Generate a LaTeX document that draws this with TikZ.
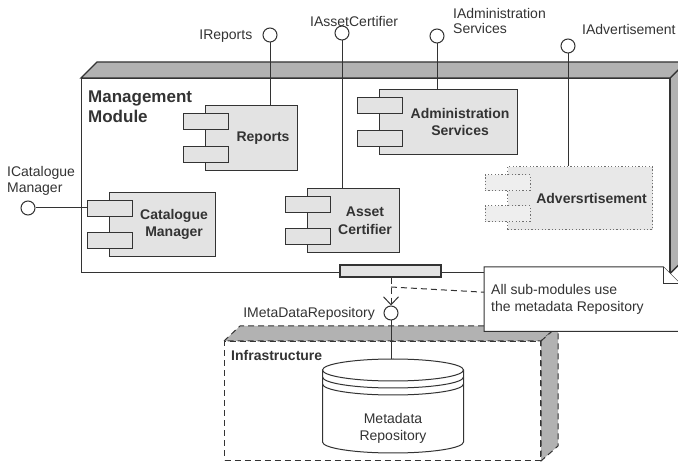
\documentclass[tikz,border=0pt]{standalone}
\usepackage{fontspec}
\setmainfont{Liberation Sans}
\usetikzlibrary{arrows.meta}

\definecolor{ink}{HTML}{333333}
\definecolor{facegray}{HTML}{B2B2B2}
\definecolor{compgray}{HTML}{E3E3E3}
\definecolor{advgray}{HTML}{E8E8E8}
\definecolor{advport}{HTML}{EEEEEE}

\tikzset{
  line/.style={draw=ink, line width=1pt},
  boxline/.style={draw=ink, line width=1.3pt},
  compbody/.style={rectangle, draw=ink, fill=compgray, line width=1.1pt, inner sep=0pt},
  compport/.style={compbody, minimum width=45pt, minimum height=16pt},
  complabel/.style={font=\bfseries\fontsize{14}{17.5}\selectfont, align=center, text=ink, inner sep=0pt},
  advstyle/.style={draw=ink!70, fill=advgray, dash pattern=on 1.2pt off 2.2pt},
  iface/.style={circle, draw=ink, fill=white, line width=1pt, minimum size=14pt, inner sep=0pt},
  lbl/.style={font=\fontsize{14}{16}\selectfont, text=ink, inner sep=0pt},
  titlelbl/.style={font=\bfseries\fontsize{17}{20}\selectfont, text=ink, inner sep=0pt},
  sublbl/.style={font=\bfseries\fontsize{14}{16}\selectfont, text=ink, inner sep=0pt},
  dashline/.style={draw=ink, line width=1pt, dash pattern=on 6pt off 4pt},
}

% component: [style]{name}{left}{top}{width}{height}{label}
\newcommand{\umlcomp}[7][]{%
  \node[compbody,#1,minimum width=#5pt,minimum height=#6pt,anchor=north west] (#2) at (#3,#4) {};
  \node[compport,#1,anchor=north west] (#2-p1) at ([shift={(-22.5,8)}]#2.north west) {};
  \node[compport,#1,anchor=south west] (#2-p2) at ([shift={(-22.5,-8)}]#2.south west) {};
  \node[complabel] (#2-l) at ([xshift=11.5pt]#2.center) {#7};
}

\begin{document}
\begin{tikzpicture}[x=1pt,y=-1pt]
\useasboundingbox (0,0) rectangle (678,462);
\clip (0,0) rectangle (678,462);

% Management module (3D box)
\node[boxline, fill=white, rectangle, inner sep=0pt, minimum width=588pt, minimum height=194pt, anchor=north west] (mgmt) at (81,78) {};
\draw[boxline, fill=facegray] (mgmt.north west) -- ++(16,-16) -- ([shift={(16,-16)}]mgmt.north east) -- (mgmt.north east) -- cycle;
\draw[boxline, fill=facegray] (mgmt.north east) -- ++(16,-16) -- ([shift={(16,-16)}]mgmt.south east) -- (mgmt.south east) -- cycle;
\node[titlelbl, anchor=base west] (mgmt-l1) at (88,102.3) {Management};
\node[titlelbl, anchor=base west] (mgmt-l2) at (88,122.7) {Module};

% Sub-modules
\umlcomp{rep}{205}{105}{92}{65}{Reports}
\umlcomp{cat}{109}{192}{106}{64}{Catalogue\\Manager}
\umlcomp{cert}{307}{188}{92}{64}{Asset\\Certifier}
\umlcomp{adm}{379}{89}{138}{65}{Administration\\Services}
\umlcomp[advstyle]{adv}{507}{166}{145}{63}{Adversrtisement}
\foreach \p in {adv-p1,adv-p2} \node[compport,advstyle,fill=advport] at (\p) {};

% Provided interfaces
\node[iface] (irep) at (270,35) {};
\draw[line] (irep) -- (irep |- rep.north);
\node[lbl, anchor=base east] (irep-l) at (252.5,39.5) {IReports};

\node[iface] (icert) at (342,33) {};
\draw[line] (icert) -- (icert |- cert.north);
\node[lbl, anchor=base west] (icert-l) at (310,26.5) {IAssetCertifier};

\node[iface] (iadm) at (437,36) {};
\draw[line] (iadm) -- (iadm |- adm.north);
\node[lbl, anchor=base west] (iadm-l1) at (453,18.5) {IAdministration};
\node[lbl, anchor=base west] (iadm-l2) at (453,33.5) {Services};

\node[iface] (iadv) at (568,46) {};
\draw[line] (iadv) -- (iadv |- adv.north);
\node[lbl, anchor=base west] (iadv-l) at (582,35) {IAdvertisement};

\node[iface] (icat) at (28,208) {};
\draw[line] (icat) -- (icat -| cat-p1.west);
\node[lbl, anchor=base west] (icat-l1) at (7,177) {ICatalogue};
\node[lbl, anchor=base west] (icat-l2) at (7,192.5) {Manager};

% Port on the module boundary
\node[compbody, minimum width=101pt, minimum height=12pt] (mport) at (390.5,271) {};

% Infrastructure (3D dashed box)
\node[dashline, fill=white, rectangle, inner sep=0pt, minimum width=316pt, minimum height=119pt, anchor=north west] (infra) at (224,341) {};
\draw[dashline, fill=facegray] (infra.north west) -- ++(16,-15) -- ([shift={(17,-15)}]infra.north east) -- (infra.north east) -- cycle;
\draw[dashline, fill=facegray] (infra.north east) -- ++(17,-15) -- ([shift={(17,-15)}]infra.south east) -- (infra.south east) -- cycle;
\node[sublbl, anchor=base west] (infra-l) at (231,361) {Infrastructure};

% Metadata repository (data store)
\coordinate (repo-top) at (391,359);
\draw[line, fill=white] (322.5,370) -- (322.5,442) arc[start angle=180, end angle=360, x radius=70.5pt, y radius=11pt] -- (463.5,370);
\draw[line, fill=white] (393,370) ellipse[x radius=70.5pt, y radius=11pt];
\draw[line] (322.5,377) arc[start angle=180, end angle=360, x radius=70.5pt, y radius=11pt];
\draw[line] (322.5,384) arc[start angle=180, end angle=360, x radius=70.5pt, y radius=11pt];
\node[lbl, align=center, font=\fontsize{14}{17}\selectfont] (repo-l) at (393,428) {Metadata\\Repository};

\node[iface, minimum size=14pt] (imeta) at (391,313) {};
\draw[line] (imeta) -- (repo-top);
\node[lbl, anchor=base east] (imeta-l) at (375,317.5) {IMetaDataRepository};

% Usage dependency
\draw[dashline, -{Straight Barb[length=8pt, width=15pt, line width=1pt]}] (mport.south -| imeta) -- (imeta.north);

% Note
\node[rectangle, inner sep=0pt, minimum width=196pt, minimum height=64pt, anchor=north west] (note) at (484,267) {};
\draw[line, fill=white] (note.north west) -- ([xshift=-17pt]note.north east) -- ([yshift=-17pt]note.north east) -- (note.south east) -- (note.south west) -- cycle;
\draw[line, fill=white] ([xshift=-17pt]note.north east) -- ([shift={(-17,17)}]note.north east) -- ([yshift=-17pt]note.north east);
\node[lbl, anchor=base west] (note-l1) at (491,295) {All sub-modules use};
\node[lbl, anchor=base west] (note-l2) at (491,312) {the metadata Repository};
\coordinate (dep) at (391,287);
\draw[dashline] (dep) -- ([yshift=7pt]note.west);
\end{tikzpicture}
\end{document}
